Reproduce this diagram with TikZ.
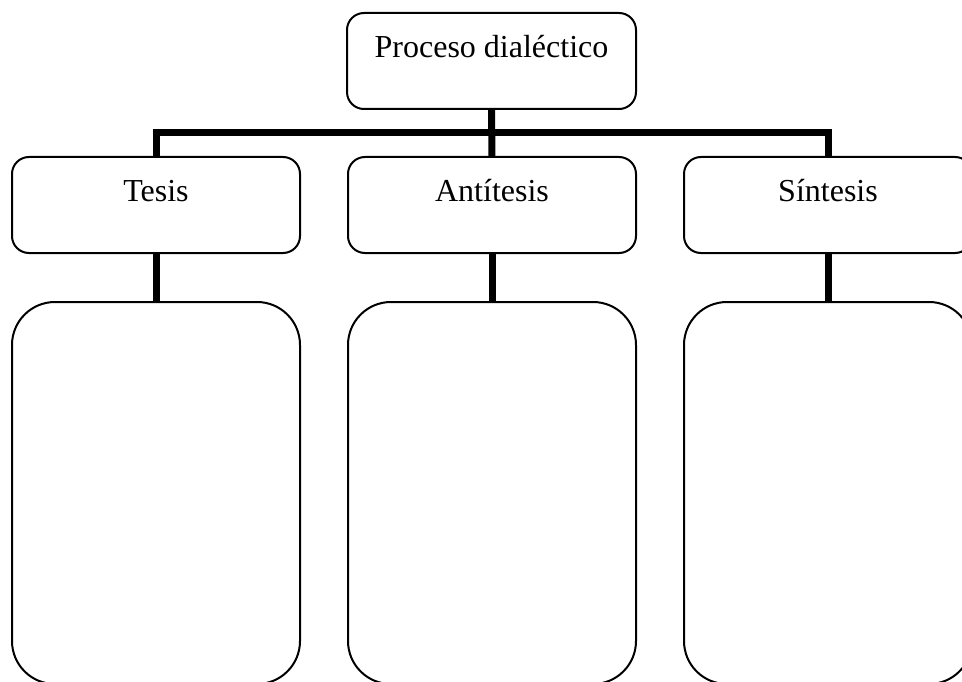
\documentclass[tikz,border=0pt]{standalone}
\usepackage{fontspec}
\setmainfont{Liberation Serif}
\begin{document}
\begin{tikzpicture}[x=1pt,y=-1pt,
  box/.style={draw=black,line width=2pt,rounded corners=17pt,rectangle,outer sep=0pt,inner sep=0pt,
    minimum width=288pt,minimum height=96pt},
  bigbox/.style={draw=black,line width=2pt,rounded corners=43pt,rectangle,outer sep=0pt,inner sep=0pt,
    minimum width=288pt,minimum height=382pt},
  lbl/.style={anchor=base,inner sep=0pt,font=\fontsize{32}{38}\selectfont},
  conn/.style={draw=black,line width=7pt,line join=miter,line cap=butt}]
\useasboundingbox (0,0) rectangle (962,682);
\clip (0,0) rectangle (962,682);
% boxes
\node[box,minimum width=289pt] (top) at (491.5,61) {};
\node[box] (tesis) at (156,205) {};
\node[box] (anti) at (492,205) {};
\node[box] (sint) at (828,205) {};
\node[bigbox] (tesisb) at (156,493) {};
\node[bigbox] (antib) at (492,493) {};
\node[bigbox] (sintb) at (828,493) {};
% labels
\node[lbl] (ltop) at ([yshift=-45pt]top.north) {Proceso dialéctico};
\node[lbl] (ltesis) at ([yshift=-45pt]tesis.north) {Tesis};
\node[lbl] (lanti) at ([yshift=-45pt]anti.north) {Antítesis};
\node[lbl] (lsint) at ([yshift=-45pt]sint.north) {Síntesis};
% connectors
\coordinate (bar) at (0,133);
\draw[conn] (top.south) -- (anti.north);
\draw[conn] (tesis.north) |- (sint.north |- bar) -- (sint.north);
\draw[conn] (tesis.south) -- (tesisb.north);
\draw[conn] (anti.south) -- (antib.north);
\draw[conn] (sint.south) -- (sintb.north);
\end{tikzpicture}
\end{document}
